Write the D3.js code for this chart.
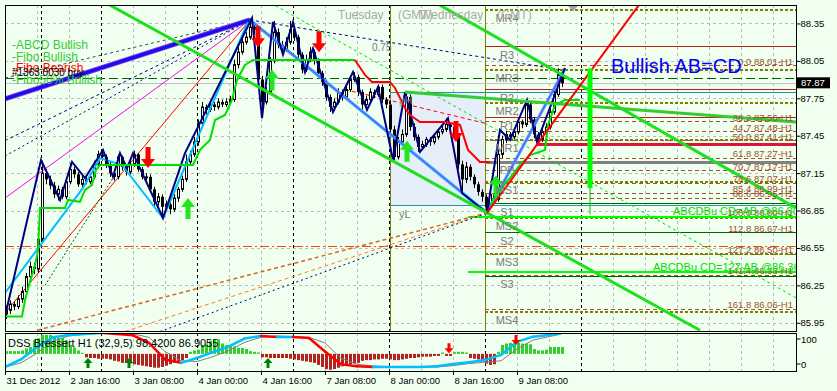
<!DOCTYPE html>
<html>
<head>
<meta charset="utf-8">
<script src="https://cdn.jsdelivr.net/npm/d3@7"></script>
<style>
html, body { margin: 0; padding: 0; background: #f0fff0; }
svg { display: block; font-family: "Liberation Sans", Arial, sans-serif; }
</style>
</head>
<body>
<div id="chart"></div>
<script>
// ---- candles (H1 bars, index 0 = 31 Dec 2012) ----
const opens = [86.02,86.05,86.10,86.08,86.14,86.20,86.32,86.40,86.38,86.62, 87.15,87.10,87.05,86.98,87.02,86.96,87.08,87.18,87.14,87.06,
  87.10,87.08,87.12,87.22,87.30,87.28,87.22,87.15,87.12,87.28, 87.20,87.16,87.22,87.30,87.18,87.12,87.12,87.02,86.92,86.96,
  86.88,86.90,86.86,86.95,87.02,87.10,87.24,87.30,87.40,87.55, 87.68,87.66,87.70,87.68,87.72,87.70,87.72,87.74,88.02,88.12,
  88.20,88.24,88.32,88.30,87.90,87.72,87.80,88.05,88.28,88.18, 88.14,88.20,88.30,88.24,88.10,87.98,88.06,88.12,88.05,87.95,
  87.88,87.76,87.68,87.72,87.80,87.76,87.82,87.90,87.92,87.80, 87.70,87.74,87.80,87.78,87.84,87.74,87.70,87.50,87.28,87.40,
  87.46,87.76,87.52,87.44,87.36,87.38,87.42,87.40,87.44,87.48, 87.50,87.54,87.52,87.44,87.22,87.10,87.20,87.12,87.06,87.00,
  86.96,86.88,86.98,86.94,87.30,87.42,87.46,87.44,87.48,87.56, 87.54,87.70,87.58,87.46,87.42,87.48,87.52,87.64,87.78,87.94];
const highs = [86.09,86.13,86.12,86.17,86.24,86.35,86.44,86.43,86.66,87.25, 87.18,87.13,87.08,87.05,87.04,87.11,87.23,87.20,87.16,87.13,
  87.12,87.15,87.25,87.33,87.32,87.30,87.24,87.18,87.30,87.29, 87.22,87.25,87.33,87.31,87.20,87.15,87.14,87.04,86.99,86.98,
  86.93,86.92,86.98,87.04,87.13,87.30,87.33,87.44,87.58,87.72, 87.70,87.73,87.72,87.75,87.74,87.75,87.77,88.06,88.16,88.24,
  88.28,88.39,88.36,88.33,87.93,87.84,88.08,88.37,88.31,88.21, 88.24,88.37,88.33,88.26,88.12,88.10,88.16,88.14,88.07,87.97,
  87.90,87.78,87.75,87.83,87.82,87.85,87.93,87.96,87.94,87.82, 87.77,87.83,87.82,87.86,87.86,87.76,87.73,87.53,87.44,87.50,
  87.80,87.78,87.55,87.46,87.41,87.44,87.44,87.46,87.50,87.53, 87.59,87.56,87.54,87.46,87.25,87.24,87.22,87.14,87.08,87.02,
  86.98,87.01,87.00,87.34,87.45,87.49,87.48,87.51,87.59,87.58, 87.73,87.72,87.60,87.48,87.51,87.55,87.67,87.81,87.99,87.98];
const lows = [85.98,86.02,86.05,86.06,86.11,86.18,86.29,86.34,86.35,86.60, 87.06,87.02,86.95,86.93,86.94,86.94,87.06,87.11,87.04,87.04,
  87.06,87.06,87.10,87.20,87.25,87.19,87.12,87.09,87.10,87.17, 87.13,87.14,87.20,87.16,87.10,87.09,87.00,86.88,86.89,86.80,
  86.85,86.82,86.84,86.92,87.00,87.08,87.21,87.28,87.37,87.52, 87.62,87.64,87.65,87.66,87.68,87.68,87.70,87.72,87.99,88.10,
  88.18,88.22,88.26,87.86,87.59,87.70,87.78,88.03,88.15,88.10, 88.12,88.18,88.21,88.07,87.95,87.96,88.04,88.02,87.92,87.85,
  87.73,87.64,87.66,87.70,87.73,87.74,87.80,87.88,87.77,87.66, 87.67,87.72,87.75,87.76,87.71,87.67,87.46,87.25,87.26,87.37,
  87.44,87.49,87.41,87.32,87.34,87.36,87.37,87.38,87.42,87.46, 87.48,87.50,87.42,87.18,86.99,87.07,87.09,87.03,86.97,86.92,
  86.83,86.86,86.91,86.92,87.27,87.39,87.41,87.42,87.46,87.51, 87.52,87.55,87.43,87.40,87.40,87.46,87.50,87.62,87.76,87.84];
const closes = [86.05,86.10,86.08,86.14,86.20,86.32,86.40,86.38,86.62,87.15, 87.10,87.05,86.98,87.02,86.96,87.08,87.18,87.14,87.06,87.10,
  87.08,87.12,87.22,87.30,87.28,87.22,87.15,87.12,87.28,87.20, 87.16,87.22,87.30,87.18,87.12,87.12,87.02,86.92,86.96,86.88,
  86.90,86.86,86.95,87.02,87.10,87.24,87.30,87.40,87.55,87.68, 87.66,87.70,87.68,87.72,87.70,87.72,87.74,88.02,88.12,88.20,
  88.24,88.32,88.30,87.90,87.72,87.80,88.05,88.28,88.18,88.14, 88.20,88.30,88.24,88.10,87.98,88.06,88.12,88.05,87.95,87.88,
  87.76,87.68,87.72,87.80,87.76,87.82,87.90,87.92,87.80,87.70, 87.74,87.80,87.78,87.84,87.74,87.70,87.50,87.28,87.40,87.46,
  87.76,87.52,87.44,87.36,87.38,87.42,87.40,87.44,87.48,87.50, 87.54,87.52,87.44,87.22,87.10,87.20,87.12,87.06,87.00,86.96,
  86.88,86.98,86.94,87.30,87.42,87.46,87.44,87.48,87.56,87.54, 87.70,87.58,87.46,87.42,87.48,87.52,87.64,87.78,87.94,87.87];

// ---- axes ----
const priceTicks = [88.35, 88.05, 87.75, 87.45, 87.15, 86.85, 86.55, 86.25, 85.95];
const timeLabels = ["31 Dec 2012", "2 Jan 16:00", "3 Jan 08:00", "4 Jan 00:00", "4 Jan 16:00",
  "7 Jan 08:00", "8 Jan 00:00", "8 Jan 16:00", "9 Jan 08:00"];
const timeBars = [0, 16, 32, 48, 64, 80, 96, 112, 128];
const separatorBars = [9, 24, 48, 72, 96, 120, 144];
const pivotDayBars = [96.25, 120];
const bidPrice = 87.87;

// ---- pivot and fibo levels ----
const pivotNames = ["MR4","R3","MR3","R2","MR2","R1","MR1","PP","MS1","S1","MS2","S2","MS3","S3","MS4"];
const pivotLevels = [88.458,88.162,87.977,87.817,87.712,87.592,87.416,87.239,87.079,86.903,86.790,86.670,86.502,86.325,86.038];
const fiboPct = ["0.0","38.2","44.7","50.0","61.8","70.7","78.6","85.4","88.6","100.0","112.8","127.2","141.4","161.8"];
const fiboLevels = [88.01,87.56,87.48,87.41,87.27,87.17,87.07,86.99,86.95,86.80,86.67,86.50,86.33,86.06];
const abcdLevels = [86.80, 86.357];
const abcdLabels = ["ABCDBu CD=AB  @86.80", "ABCDBu CD=127 AB  @86.36"];
const yesterdayHL = [87.80, 86.89];
const buyOrder = 87.905, sellOrder = 86.558, stopLevel = 87.376;

// ---- pattern / trend lines, [bar, price] ----
const channelLower = [[25.5, 88.51], [173.75, 85.89]];
const channelUpper = [[108, 88.51], [197.75, 86.87]];
const greenFlat = [[100, 87.80], [197.75, 87.56]];
const cdProjection = [[146.25, 87.99], [146.25, 87.03]];
const cdTail = [[146.25, 87.03], [146.25, 86.82]];
const redTrend = [[120.5, 86.83], [158.75, 88.51]];
const limeDotted = [[65, 88.54], [197.75, 86.15]];
const fanApex = [61.25, 88.378];
const fanBlue = 87.746, fanSlate = 87.913, fanNavyA = 87.41, fanNavyB = 87.287, fanMagenta = 86.95, fanRed = 86.03;
const peakDash = [[61.25, 88.378], [138.75, 87.98]];
const descWedge = [[61.25, 88.378], [120.5, 86.83]];
const ascWedge = [[120.5, 86.83], [140, 87.99]];
const convergeOrange = [[8, 85.89], [120.5, 86.83]];
const convergeBrown = [[30, 85.88], [120.5, 86.83]];
const convergeNavy = [[38.75, 85.88], [120.5, 86.83]];
const redDashDiag = [[85, 87.82], [120, 87.55]];
const greenDotShort = [[10, 86.25], [27.5, 87.135]];

const zigzag = [[0,86.00],[9,87.255],[13.75,86.935],[16.75,87.24],[20,87.11],[24.5,87.336],[27,87.12],[28.75,87.31],
  [30.5,87.19],[32,87.31],[39.5,86.79],[45,87.31],[61.75,88.394],[64.25,87.59],[67,88.362],[69.5,88.10],[72,88.362],
  [75,87.96],[77,88.15],[82,87.64],[87,87.96],[90.5,87.656],[93.25,87.84],[97,87.255],[100,87.80],[103.75,87.32],
  [110.75,87.59],[114.25,86.99],[120.5,86.83],[123.75,87.496],[126.25,87.416],[130.5,87.737],[133,87.40],[140,87.993]];
const zigzagLight = [[0,86.19],[19.5,87.031],[23.75,87.27],[29.25,87.215],[39.5,86.79],[45.5,87.239],[60.75,88.362]];

const trailGreen1 = [[0,86.00],[4.25,86.00],[5,86.13],[6.25,86.28],[7.5,86.41],[8.25,86.53],[8.75,86.87],[15,86.87],
  [15.75,86.935],[18.75,86.92],[20,87.015],[21.75,87.055],[22.75,87.175],[23.75,87.215],[47,87.215],[48.75,87.336],
  [51.25,87.416],[52.5,87.576],[55,87.616],[56.75,87.737],[58,87.897],[60,88.017],[62,88.057],[87.5,88.057]];
const trailRed = [[87.5,88.057],[90,87.937],[91.75,87.881],[96.25,87.881],[97.5,87.833],[98.75,87.752],[100,87.672],
  [101.25,87.616],[103.75,87.56],[110,87.56],[113.75,87.536],[115.75,87.336],[118.75,87.239],[121.25,87.239]];
const trailGreen2 = [[121.25,86.895],[123.75,87.015],[126.25,87.111],[128.75,87.215],[131.25,87.295],[135,87.336],
  [135.75,87.536],[137.5,87.696],[140,87.737],[143.75,87.737]];

const sellArrows = [[35.75, 87.19], [63.25, 88.16], [78.5, 88.12], [112.75, 87.40]];
const buyArrows = [[45.75, 86.95], [66.75, 87.98], [100.5, 87.41], [122.75, 87.13]];

// ---- DSS Bressert (32,9,5) ----
const dssBars = [0,4,8,12,16,20,24,28,32,36,40,44,48,52,56,60,64,68,72,76,80,84,88,92,96,100,104,108,112,116,120,124,128,132,136,139];
const dssMain = [0,22,58,86,93,96,99,96,92,70,22,12,26,43,60,83,90,87,87,84,45,8,2,0,0,0,0,2,9,14,20,35,73,88,93,98];
const dssSignal = [0,12,40,75,90,95,97,98,96,86,45,18,16,30,48,72,86,90,88,86,70,25,8,3,1,0,0,0,4,10,14,18,52,78,88,95];
const dssHist = [8,8,8,8, 10,16,20,40,45,55,55,55,52,46,46,40,26,18,10,3,
  -10,-12,-12,-14,-14,-14,-16,-20,-22,-26,-26,-28,-30,-32,-34,-36,-38,-40,-40,-38,-34,-30,-26,-22,-18,-12,
  6,10,12,26,28,38,40,42,30,26,26,22,18,17,14,8,6,4,
  -10,-10,-12,-12,-12,-12,-12,-14, -16,-18,-20,-22,-24,-26, -32,-38,-44,-46,-44,-40, -36,-34,-30,-28,-26,
  -20,-18,-18,-16,-16,-14, -14,-16,-18,-18,-16,-14,-12,-12,-10, -8,-8,-8,-6,-6, 4, -6,-6, 5,6,6,4,
  -12,-14,-16, -22,-28,-32,-30, 6,26,30,32,32,32,30,30,28, 14,10,10,12, 20,20,20,20];
const dssReadout = ["98.4200", "86.9055"];
const dssUpArrows = [[20.75, 26], [31, 26], [65.75, 26]];
const dssDownArrows = [[111, 40], [127.75, 64]];

// ================= drawing =================
const W = 837, H = 391;
const M = {left: 5, right: 796, top: 5, bottom: 331};
const S = {top: 333, bottom: 371};
const histBase = 38;

const svg = d3.select("#chart").append("svg").attr("width", W).attr("height", H);
svg.append("rect").attr("width", W).attr("height", H).attr("fill", "#f0fff0");

const x = d3.scaleLinear().domain([0, 197.75]).range([M.left, M.right]);
const y = d3.scaleLinear().domain([85.884, 88.498]).range([M.bottom, M.top]);
const yD = d3.scaleLinear().domain([0, 100]).range([367, 332.5]);

const defs = svg.append("defs");
defs.append("clipPath").attr("id", "clipMain").append("rect")
  .attr("x", M.left).attr("y", M.top).attr("width", M.right - M.left).attr("height", M.bottom - M.top);
defs.append("clipPath").attr("id", "clipSub").append("rect")
  .attr("x", M.left).attr("y", S.top).attr("width", M.right - M.left).attr("height", S.bottom - S.top);

const line = d3.line().x(d => x(d[0])).y(d => y(d[1]));
function draw(parent, pts, stroke, width, dash) {
  return parent.append("path").attr("d", line(pts)).attr("fill", "none")
    .attr("stroke", stroke).attr("stroke-width", width).attr("stroke-dasharray", dash || null);
}
function hline(parent, p, b1, b2, stroke, width, dash) {
  return draw(parent, [[b1, p], [b2, p]], stroke, width, dash).attr("shape-rendering", "crispEdges");
}

const g = svg.append("g").attr("clip-path", "url(#clipMain)");

// grid
const gridBars = d3.range(8, 198, 8);
g.selectAll(".vgrid").data(gridBars).join("line")
  .attr("x1", d => Math.round(x(d)) + 0.5).attr("x2", d => Math.round(x(d)) + 0.5)
  .attr("y1", M.top).attr("y2", M.bottom)
  .attr("stroke", "#bcbcbc").attr("stroke-dasharray", "3,3");
g.selectAll(".hgrid").data(priceTicks).join("line")
  .attr("x1", M.left).attr("x2", M.right)
  .attr("y1", d => Math.round(y(d)) + 0.5).attr("y2", d => Math.round(y(d)) + 0.5)
  .attr("stroke", "#bcbcbc").attr("stroke-dasharray", "3,3");

// yesterday range box
g.append("rect").attr("x", x(pivotDayBars[0])).attr("width", x(pivotDayBars[1]) - x(pivotDayBars[0]))
  .attr("y", y(yesterdayHL[0])).attr("height", y(yesterdayHL[1]) - y(yesterdayHL[0]))
  .attr("fill", "#e6eefa");

// period separators
g.selectAll(".sep").data(separatorBars).join("line")
  .attr("x1", d => Math.round(x(d)) + 0.5).attr("x2", d => Math.round(x(d)) + 0.5)
  .attr("y1", M.top).attr("y2", M.bottom)
  .attr("stroke", "#000").attr("stroke-dasharray", "3,3");
g.selectAll(".day").data(pivotDayBars).join("line")
  .attr("x1", d => Math.round(x(d)) + 0.5).attr("x2", d => Math.round(x(d)) + 0.5)
  .attr("y1", M.top).attr("y2", M.bottom).attr("stroke", "#808000");

// full-width order lines
hline(g, buyOrder, 0, 197.75, "#006400", 1, "9,4");
hline(g, bidPrice, 0, 197.75, "#c0c0c0", 1.5);
hline(g, sellOrder, 0, 197.75, "#ff4500", 1, "9,3,2,3");
yesterdayHL.forEach(p => hline(g, p, 96.25, 197.75, "#2596a8", 1));

// fibo levels
fiboLevels.forEach(p => hline(g, p, 120, 197.75, "#a0522d", 1, "4,3"));
// pivot levels
pivotLevels.forEach((p, k) => {
  const n = pivotNames[k];
  if (n === "PP") hline(g, p, 120, 197.75, "#808080", 3);
  else if (n[0] === "R") hline(g, p, 120, 197.75, "#b22222", 1);
  else if (n[0] === "S") hline(g, p, 120, 197.75, "#006400", 1);
  else hline(g, p, 120, 197.75, "#808000", 2, "3,2");
});
hline(g, stopLevel, 133, 197.75, "#dc143c", 3);
abcdLevels.forEach(p => hline(g, p, 115.75, 197.75, "#00ff00", 1.5));

// fan from top
[fanSlate, fanNavyA, fanNavyB, fanMagenta, fanRed].forEach((p, k) => {
  const styles = [["#2f4f4f", 1, "3,3"], ["#000080", 1, "3,3"], ["#000080", 1, "2,3"], ["#ff00ff", 1, null], ["#ff0000", 1, null]];
  draw(g, [[0, p], fanApex], styles[k][0], styles[k][1], styles[k][2]);
});
draw(g, [[0, fanBlue], fanApex], "#8a2be2", 5);
draw(g, [[0, fanBlue], fanApex], "#1010f0", 3);
draw(g, peakDash, "#000080", 1, "3,3");
draw(g, convergeOrange, "#d2691e", 1.5, "4,3");
draw(g, convergeBrown, "#ff7f24", 1, "4,3");
draw(g, convergeNavy, "#000080", 1, "2,3");
draw(g, redDashDiag, "#ff0000", 1, "4,3");
draw(g, greenDotShort, "#006400", 1, "2,2");
draw(g, limeDotted, "#00e000", 1, "3,3");

// candles
const bars = d3.range(closes.length).map(i => ({i, o: opens[i], h: highs[i], l: lows[i], c: closes[i]}));
const cg = g.append("g");
cg.selectAll(".wick").data(bars).join("line")
  .attr("x1", d => Math.round(x(d.i)) + 1.5).attr("x2", d => Math.round(x(d.i)) + 1.5)
  .attr("y1", d => y(d.h)).attr("y2", d => y(d.l)).attr("stroke", "#000");
cg.selectAll(".body").data(bars).join("rect")
  .attr("x", d => Math.round(x(d.i)) + (d.c >= d.o ? 0.5 : 0))
  .attr("width", d => d.c >= d.o ? 2 : 3)
  .attr("y", d => y(Math.max(d.o, d.c)))
  .attr("height", d => Math.max(1, Math.abs(y(d.o) - y(d.c))))
  .attr("fill", d => d.c >= d.o ? "#ffffff" : "#000000")
  .attr("stroke", d => d.c >= d.o ? "#000" : "none");

// wedge lines and zigzags
draw(g, descWedge, "#00bfff", 3);
draw(g, descWedge, "#ff00ff", 1);
draw(g, ascWedge, "#00bfff", 3);
draw(g, ascWedge, "#ff00ff", 1);
draw(g, zigzagLight, "#00bfff", 2);
draw(g, zigzag, "#000080", 2);

// trailing stop
draw(g, trailGreen1, "#00e000", 2);
draw(g, trailRed, "#ff0000", 2);
draw(g, trailGreen2, "#00e000", 2);

// channels and AB=CD
draw(g, channelLower, "#1ee01e", 3);
draw(g, channelUpper, "#1ee01e", 3);
draw(g, greenFlat, "#32cd32", 3);
draw(g, redTrend, "#ff0000", 2);
draw(g, cdProjection, "#00ff00", 5);
draw(g, cdTail, "#00c000", 1);

// arrows
const downArrow = "M0,0 L-7,-9 L-2.5,-9 L-2.5,-21 L2.5,-21 L2.5,-9 L7,-9 Z";
const upArrow = "M0,0 L-7,9 L-2.5,9 L-2.5,21 L2.5,21 L2.5,9 L7,9 Z";
g.selectAll(".sell").data(sellArrows).join("path").attr("d", downArrow)
  .attr("transform", d => `translate(${x(d[0])},${y(d[1])})`).attr("fill", "#ff0000");
g.selectAll(".buy").data(buyArrows).join("path").attr("d", upArrow)
  .attr("transform", d => `translate(${x(d[0])},${y(d[1])})`).attr("fill", "#22e622");

// texts inside main chart
const tg = g.append("g");
pivotNames.forEach((n, k) => {
  tg.append("text").attr("x", x(125.5)).attr("y", y(pivotLevels[k]) + 12).attr("text-anchor", "middle")
    .attr("font-size", 11).attr("fill", "#7a7a7a").text(n);
});
fiboLevels.forEach((p, k) => {
  tg.append("text").attr("x", 793).attr("y", y(p) - 1).attr("text-anchor", "end")
    .attr("font-size", 9.5).attr("fill", "#a0522d").text(`${fiboPct[k]} ${p.toFixed(2)}-H1`);
});
abcdLevels.forEach((p, k) => {
  tg.append("text").attr("x", k === 0 ? 673 : 653).attr("y", y(p) - 1.5)
    .attr("font-size", 11).attr("fill", "#00dd00").text(abcdLabels[k]);
});
tg.append("text").attr("x", x(98.5)).attr("y", y(yesterdayHL[0]) + 12).attr("font-size", 11).attr("fill", "#7a7a7a").text("yH");
tg.append("text").attr("x", x(98.5)).attr("y", y(yesterdayHL[1]) + 12).attr("font-size", 11).attr("fill", "#7a7a7a").text("yL");
tg.append("text").attr("x", x(91.75)).attr("y", y(88.13)).attr("font-size", 10).attr("fill", "#7a7a7a").text("0.75");
tg.append("text").attr("x", x(151.5)).attr("y", y(87.953)).attr("font-size", 20).attr("fill", "#0000ff").text("Bullish AB=CD");
[["Tuesday", 338], ["(GMT)", 398], ["Wednesday", 420], ["(GMT)", 497]].forEach(t => {
  tg.append("text").attr("x", t[1]).attr("y", 19).attr("font-size", 12).attr("fill", "#a9a9a9").text(t[0]);
});
tg.append("path").attr("d", `M${x(142)-5},6 L${x(142)+5},6 L${x(142)},11 Z`).attr("fill", "#a0a0a0");

// legend
[["-ABCD Bullish", "#32cd32"], ["-Fibo Bullish", "#32cd32"], ["-Fibo Bearish", "#ff0000"], ["-Fibo50% Bullish", "#32cd32"]]
  .forEach((t, k) => {
    svg.append("text").attr("x", 12).attr("y", 49 + k * 11.5).attr("font-size", 12).attr("fill", t[1]).text(t[0]);
  });
svg.append("text").attr("x", 12).attr("y", y(buyOrder) - 3).attr("font-size", 10).attr("fill", "#000").text("#1363 0030 buy");

// panel borders
svg.append("rect").attr("x", M.left + 0.5).attr("y", M.top + 0.5).attr("width", M.right - M.left)
  .attr("height", M.bottom - M.top).attr("fill", "none").attr("stroke", "#000");

// right price axis
const ax = svg.append("g").attr("transform", `translate(${M.right + 0.5},0)`)
  .call(d3.axisRight(y).tickValues(priceTicks).tickSize(4).tickFormat(d3.format(".2f")));
ax.select(".domain").remove();
ax.selectAll("text").attr("font-size", 9.5).attr("font-family", "Liberation Sans, Arial, sans-serif").attr("fill", "#000").attr("x", 4);
svg.append("rect").attr("x", M.right + 1).attr("y", y(bidPrice) - 6).attr("width", 33).attr("height", 11).attr("fill", "#000");
svg.append("text").attr("x", M.right + 5).attr("y", y(bidPrice) + 3).attr("font-size", 9.5).attr("fill", "#fff").text(bidPrice.toFixed(2));

// ===== DSS sub-window =====
const sg = svg.append("g").attr("clip-path", "url(#clipSub)");
sg.selectAll(".vgrid").data(gridBars).join("line")
  .attr("x1", d => Math.round(x(d)) + 0.5).attr("x2", d => Math.round(x(d)) + 0.5)
  .attr("y1", S.top).attr("y2", S.bottom).attr("stroke", "#bcbcbc").attr("stroke-dasharray", "3,3");
sg.selectAll(".sep").data(separatorBars).join("line")
  .attr("x1", d => Math.round(x(d)) + 0.5).attr("x2", d => Math.round(x(d)) + 0.5)
  .attr("y1", S.top).attr("y2", S.bottom).attr("stroke", "#000").attr("stroke-dasharray", "3,3");
sg.selectAll(".hist").data(dssHist).join("rect")
  .attr("x", (d, i) => Math.round(x(i)))
  .attr("width", 3)
  .attr("y", d => Math.min(yD(histBase), yD(histBase + d)))
  .attr("height", d => Math.abs(yD(histBase + d) - yD(histBase)))
  .attr("fill", d => d >= 0 ? "#32cd32" : "#b22222");
const dssLine = d3.line().x(d => x(d[0])).y(d => yD(d[1]));
sg.append("path").attr("d", dssLine(dssBars.map((b, k) => [b, dssSignal[k]])))
  .attr("fill", "none").attr("stroke", "#808080").attr("stroke-width", 1);
for (let k = 1; k < dssBars.length; k++) {
  sg.append("path").attr("d", dssLine([[dssBars[k - 1], dssMain[k - 1]], [dssBars[k], dssMain[k]]]))
    .attr("fill", "none").attr("stroke-width", 2.5).attr("stroke-linecap", "round")
    .attr("stroke", dssMain[k] >= dssMain[k - 1] ? "#00bfff" : "#ff0000");
}
const smallUp = "M0,0 L-4.5,5 L-1.5,5 L-1.5,10 L1.5,10 L1.5,5 L4.5,5 Z";
const smallDown = "M0,0 L-4.5,-5 L-1.5,-5 L-1.5,-10 L1.5,-10 L1.5,-5 L4.5,-5 Z";
sg.selectAll(".dup").data(dssUpArrows).join("path").attr("d", smallUp)
  .attr("transform", d => `translate(${x(d[0])},${yD(d[1])})`).attr("fill", "#008000");
sg.selectAll(".ddn").data(dssDownArrows).join("path").attr("d", smallDown)
  .attr("transform", d => `translate(${x(d[0])},${yD(d[1])})`).attr("fill", "#ff0000");
svg.append("text").attr("x", 8).attr("y", 347).attr("font-size", 11).attr("fill", "#000")
  .text(`DSS Bressert H1 (32,9,5) ${dssReadout[0]} ${dssReadout[1]}`);
svg.append("rect").attr("x", M.left + 0.5).attr("y", S.top + 0.5).attr("width", M.right - M.left)
  .attr("height", S.bottom - S.top).attr("fill", "none").attr("stroke", "#000");
[[100, 6.5], [0, -3]].forEach(t => {
  svg.append("line").attr("x1", M.right + 0.5).attr("x2", M.right + 4.5)
    .attr("y1", yD(t[0]) + t[1]).attr("y2", yD(t[0]) + t[1]).attr("stroke", "#000");
  svg.append("text").attr("x", M.right + 5).attr("y", yD(t[0]) + t[1] + 3.5).attr("font-size", 9.5).attr("fill", "#000").text(t[0]);
});

// time axis
timeBars.forEach((b, k) => {
  const tx = Math.round(x(b)) + 0.5;
  svg.append("line").attr("x1", tx).attr("x2", tx).attr("y1", S.bottom).attr("y2", S.bottom + 4).attr("stroke", "#000");
  svg.append("text").attr("x", tx + 1).attr("y", 384).attr("font-size", 9.5).attr("fill", "#000").text(timeLabels[k]);
});
</script>
</body>
</html>
